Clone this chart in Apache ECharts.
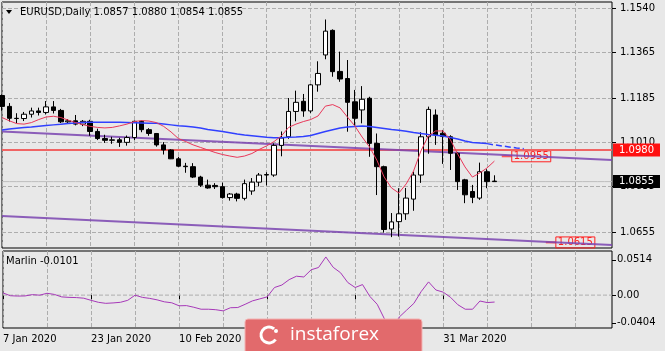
<!DOCTYPE html>
<html>
<head>
<meta charset="utf-8">
<style>
  html, body { margin: 0; padding: 0; background: #e8e8e8; }
  #chart { width: 665px; height: 351px; }
</style>
<script src="https://cdn.jsdelivr.net/npm/echarts@6.0.0/dist/echarts.min.js"></script>
</head>
<body>
<div id="chart"></div>
<script>
// trading days on the x axis (last ones are the empty space on the right)
const dates = [
  '7 Jan 2020','8 Jan 2020','9 Jan 2020','10 Jan 2020','13 Jan 2020','14 Jan 2020','15 Jan 2020','16 Jan 2020',
  '17 Jan 2020','20 Jan 2020','21 Jan 2020','22 Jan 2020','23 Jan 2020','24 Jan 2020','27 Jan 2020','28 Jan 2020',
  '29 Jan 2020','30 Jan 2020','31 Jan 2020','3 Feb 2020','4 Feb 2020','5 Feb 2020','6 Feb 2020','7 Feb 2020',
  '10 Feb 2020','11 Feb 2020','12 Feb 2020','13 Feb 2020','14 Feb 2020','17 Feb 2020','18 Feb 2020','19 Feb 2020',
  '20 Feb 2020','21 Feb 2020','24 Feb 2020','25 Feb 2020','26 Feb 2020','27 Feb 2020','28 Feb 2020','2 Mar 2020',
  '3 Mar 2020','4 Mar 2020','5 Mar 2020','6 Mar 2020','9 Mar 2020','10 Mar 2020','11 Mar 2020','12 Mar 2020',
  '13 Mar 2020','16 Mar 2020','17 Mar 2020','18 Mar 2020','19 Mar 2020','20 Mar 2020','23 Mar 2020','24 Mar 2020',
  '25 Mar 2020','26 Mar 2020','27 Mar 2020','30 Mar 2020','31 Mar 2020','1 Apr 2020','2 Apr 2020','3 Apr 2020',
  '6 Apr 2020','7 Apr 2020','8 Apr 2020','9 Apr 2020','10 Apr 2020','13 Apr 2020','14 Apr 2020','15 Apr 2020',
  '16 Apr 2020','17 Apr 2020','20 Apr 2020','21 Apr 2020','22 Apr 2020','23 Apr 2020','24 Apr 2020','27 Apr 2020',
  '28 Apr 2020','29 Apr 2020','30 Apr 2020','1 May 2020'
];

// EURUSD daily: [open, close, low, high]
const candles = [
  [1.1195,1.1152,1.1135,1.1199],[1.1152,1.1105,1.1092,1.1165],[1.1105,1.1104,1.1086,1.1125],[1.1104,1.1121,1.1094,1.1130],
  [1.1121,1.1134,1.1108,1.1147],[1.1134,1.1128,1.1116,1.1147],[1.1128,1.1150,1.1120,1.1173],[1.1150,1.1136,1.1124,1.1173],
  [1.1136,1.1091,1.1086,1.1142],[1.1091,1.1095,1.1085,1.1102],[1.1095,1.1082,1.1077,1.1118],[1.1082,1.1093,1.1074,1.1098],
  [1.1093,1.1053,1.1036,1.1099],[1.1053,1.1025,1.1019,1.1064],[1.1025,1.1018,1.1008,1.1040],[1.1018,1.1020,1.1004,1.1032],
  [1.1020,1.1010,1.0992,1.1028],[1.1010,1.1029,1.0997,1.1037],[1.1029,1.1093,1.1019,1.1096],[1.1093,1.1060,1.1050,1.1096],
  [1.1060,1.1045,1.1036,1.1066],[1.1045,1.1000,1.0993,1.1047],[1.1000,1.0980,1.0962,1.1011],[1.0980,1.0945,1.0944,1.0983],
  [1.0945,1.0916,1.0913,1.0953],[1.0916,1.0914,1.0890,1.0929],[1.0914,1.0873,1.0869,1.0928],[1.0873,1.0841,1.0834,1.0878],
  [1.0841,1.0830,1.0827,1.0863],[1.0840,1.0835,1.0826,1.0849],[1.0835,1.0792,1.0788,1.0851],[1.0792,1.0806,1.0780,1.0810],
  [1.0806,1.0789,1.0777,1.0811],[1.0789,1.0847,1.0781,1.0863],[1.0818,1.0853,1.0803,1.0869],[1.0853,1.0881,1.0836,1.0889],
  [1.0881,1.0883,1.0840,1.0892],[1.0881,1.0998,1.0874,1.1006],[1.0998,1.1027,1.0955,1.1053],[1.1032,1.1132,1.1024,1.1185],
  [1.1132,1.1168,1.1093,1.1214],[1.1172,1.1134,1.1111,1.1201],[1.1134,1.1237,1.1126,1.1240],[1.1237,1.1282,1.1210,1.1330],
  [1.1355,1.1449,1.1338,1.1495],[1.1452,1.1289,1.1269,1.1456],[1.1290,1.1260,1.1249,1.1368],[1.1262,1.1168,1.1052,1.1335],
  [1.1170,1.1105,1.1072,1.1217],[1.1138,1.1180,1.1085,1.1232],[1.1184,1.1006,1.0953,1.1190],[1.1006,1.0914,1.0802,1.1045],
  [1.0914,1.0666,1.0654,1.0918],[1.0668,1.0696,1.0636,1.0731],[1.0697,1.0728,1.0638,1.0829],[1.0728,1.0790,1.0704,1.0830],
  [1.0786,1.0881,1.0740,1.0894],[1.0881,1.1032,1.0850,1.1050],[1.1032,1.1140,1.0965,1.1151],[1.1118,1.1039,1.1000,1.1140],
  [1.1046,1.1033,1.0925,1.1059],[1.1032,1.0967,1.0901,1.1038],[1.0967,1.0855,1.0822,1.0972],[1.0862,1.0803,1.0770,1.0866],
  [1.0816,1.0793,1.0770,1.0842],[1.0790,1.0894,1.0783,1.0930],[1.0894,1.0855,1.0829,1.0904],[1.0857,1.0855,1.0854,1.0880]
];

// fast MA (red)
const redMa = [
  1.1108,1.1095,1.1084,1.1082,1.1088,1.1100,1.1110,1.1113,1.1108,1.1098,
  1.1088,1.1080,1.1073,1.1069,1.1067,1.1069,1.1075,1.1082,1.1092,1.1096,
  1.1094,1.1088,1.1073,1.1051,1.1025,1.1013,1.1000,1.0990,1.0980,1.0970,
  1.0962,1.0956,1.0951,1.0956,1.0966,1.0982,1.0996,1.1013,1.1035,1.1069,
  1.1082,1.1092,1.1100,1.1114,1.1153,1.1159,1.1146,1.1110,1.1075,1.1031,
  1.0992,1.0940,1.0873,1.0830,1.0810,1.0846,1.0897,1.0976,1.1035,1.1055,
  1.1055,1.1021,1.0964,1.0913,1.0873,1.0889,1.0909,1.0936
];

// slow MA (blue), solid part then the dashed forward part
const blueMa = [
  1.1059,1.1063,1.1066,1.1069,1.1071,1.1074,1.1077,1.1079,1.1081,1.1084,
  1.1086,1.1088,1.1089,1.1089,1.1089,1.1089,1.1089,1.1088,1.1087,1.1086,
  1.1085,1.1085,1.1082,1.1079,1.1076,1.1074,1.1071,1.1067,1.1061,1.1057,
  1.1053,1.1048,1.1043,1.1039,1.1036,1.1033,1.1030,1.1028,1.1028,1.1030,
  1.1031,1.1033,1.1037,1.1045,1.1053,1.1060,1.1067,1.1071,1.1073,1.1075,
  1.1073,1.1069,1.1065,1.1061,1.1058,1.1054,1.1049,1.1045,1.1041,1.1038,
  1.1035,1.1029,1.1023,1.1015,1.1009,1.1007,1.1005
];
const blueForecast = [1.1005,1.1000,1.0996,1.0992,1.0988,1.0985];

// channel lines: value at first and last category
const upperChannel = [1.1053, 1.0940];
const lowerChannel = [1.0719, 1.0605];
const channelTexts = ['1.0955', '1.0615'];
const channelValues = [1.0955, 1.0615];
const channelIdx = [68, 74];

const levelPrice = 1.0980;
const bidPrice = 1.0855;

// Marlin oscillator
const marlin = [
  0.0032,-0.0009,-0.0014,-0.0012,0.0007,-0.0001,0.0027,0.0010,-0.0026,-0.0033,
  -0.0036,-0.0045,-0.0076,-0.0105,-0.0120,-0.0114,-0.0105,-0.0076,-0.0001,-0.0033,
  -0.0048,-0.0069,-0.0098,-0.0112,-0.0156,-0.0153,-0.0177,-0.0206,-0.0206,-0.0213,
  -0.0230,-0.0184,-0.0181,-0.0134,-0.0084,-0.0055,-0.0026,0.0111,0.0147,0.0226,
  0.0276,0.0265,0.0370,0.0403,0.0557,0.0406,0.0327,0.0183,0.0111,0.0154,
  -0.0019,-0.0134,-0.0350,-0.0494,-0.0321,-0.0220,-0.0120,0.0053,0.0193,0.0075,
  0.0043,-0.0033,-0.0141,-0.0206,-0.0206,-0.0086,-0.0109,-0.0101
];

const priceTicks = [1.1540, 1.1365, 1.1185, 1.1010, 1.0835, 1.0655];
const marlinTicks = [0.0514, 0, -0.0404];

const FONT = 'DejaVu Sans';
const GRIDLINE = '#adadad';
const n = dates.length;

function lineFromEnds(ends) {
  const d = new Array(n).fill(null);
  d[0] = ends[0];
  d[n - 1] = ends[1];
  return d;
}

const chart = echarts.init(document.getElementById('chart'));
const last = candles[candles.length - 1];
const titleText = 'EURUSD,Daily ' + [last[0], last[3], last[2], last[1]].map(v => v.toFixed(4)).join(' ');

const gridDash = { color: GRIDLINE, width: 1, type: 'dashed', dashOffset: 0 };

chart.setOption({
  animation: false,
  backgroundColor: '#e8e8e8',
  grid: [
    { left: 2, top: 2, width: 610, height: 246, show: true, borderColor: '#000', borderWidth: 1, backgroundColor: 'transparent' },
    { left: 2, top: 251, width: 610, height: 77, show: true, borderColor: '#000', borderWidth: 1, backgroundColor: 'transparent' }
  ],
  xAxis: [
    {
      type: 'category', gridIndex: 0, data: dates, boundaryGap: false,
      axisLine: { show: false }, axisTick: { show: false }, axisLabel: { show: false },
      splitLine: { show: true, interval: 5, lineStyle: gridDash }
    },
    {
      type: 'category', gridIndex: 1, data: dates, boundaryGap: false,
      axisLine: { show: false },
      axisTick: { show: true, interval: (i) => i % 12 === 0 && i <= 60, length: 4, lineStyle: { color: '#000' } },
      axisLabel: {
        interval: (i) => i % 12 === 0 && i <= 60, align: 'left', margin: 6,
        color: '#000', fontSize: 10, fontFamily: FONT
      },
      splitLine: { show: true, interval: 5, lineStyle: gridDash }
    }
  ],
  yAxis: [
    {
      type: 'value', gridIndex: 0, position: 'right', min: 1.0593, max: 1.1564,
      axisLine: { show: false },
      axisTick: { show: true, customValues: priceTicks, length: 4, lineStyle: { color: '#000' } },
      axisLabel: { customValues: priceTicks, margin: 8, color: '#000', fontSize: 10, fontFamily: FONT, formatter: v => v.toFixed(4) },
      splitLine: { show: true, lineStyle: gridDash }
    },
    {
      type: 'value', gridIndex: 1, position: 'right', min: -0.048, max: 0.0644,
      axisLine: { show: false },
      axisTick: { show: true, customValues: marlinTicks, length: 4, lineStyle: { color: '#000' } },
      axisLabel: {
        customValues: marlinTicks, margin: 5, color: '#000', fontSize: 10, fontFamily: FONT,
        formatter: v => (v === 0 ? '0.00' : v.toFixed(4))
      },
      splitLine: { show: false }
    }
  ],
  series: [
    {
      // bid line, under everything
      name: 'bid', type: 'line', xAxisIndex: 0, yAxisIndex: 0, data: new Array(n).fill(bidPrice),
      symbol: 'none', z: 1, silent: true, lineStyle: { color: '#bdbdbd', width: 1 }
    },
    {
      // horizontal level, kept under the candles
      name: 'level', type: 'line', xAxisIndex: 0, yAxisIndex: 0, data: new Array(n).fill(levelPrice),
      symbol: 'none', z: 1, silent: true, lineStyle: { color: '#f06464', width: 2 }
    },
    {
      name: 'upper', type: 'line', xAxisIndex: 0, yAxisIndex: 0, data: lineFromEnds(upperChannel),
      connectNulls: true, symbol: 'none', z: 2, lineStyle: { color: '#7a44b0', width: 2, opacity: 0.85 }
    },
    {
      name: 'lower', type: 'line', xAxisIndex: 0, yAxisIndex: 0, data: lineFromEnds(lowerChannel),
      connectNulls: true, symbol: 'none', z: 2, lineStyle: { color: '#7a44b0', width: 2, opacity: 0.85 }
    },
    {
      type: 'candlestick', xAxisIndex: 0, yAxisIndex: 0, data: candles, barWidth: 5, z: 3,
      itemStyle: { color: '#fff', color0: '#000', borderColor: '#000', borderColor0: '#000', borderWidth: 1 }
    },
    {
      name: 'blue', type: 'line', xAxisIndex: 0, yAxisIndex: 0, data: blueMa,
      symbol: 'none', z: 4, lineStyle: { color: '#3040ff', width: 1.5 }
    },
    {
      name: 'blueForecast', type: 'line', xAxisIndex: 0, yAxisIndex: 0,
      data: new Array(blueMa.length - 1).fill(null).concat(blueForecast),
      symbol: 'none', z: 4, lineStyle: { color: '#3040ff', width: 1.5, type: 'dashed' }
    },
    {
      name: 'red', type: 'line', xAxisIndex: 0, yAxisIndex: 0, data: redMa,
      symbol: 'none', z: 5, lineStyle: { color: '#e8385a', width: 1 }
    },
    {
      // zero line of the oscillator
      name: 'zero', type: 'line', xAxisIndex: 1, yAxisIndex: 1, data: new Array(n).fill(0),
      symbol: 'none', z: 1, silent: true, lineStyle: gridDash
    },
    {
      name: 'Marlin', type: 'line', xAxisIndex: 1, yAxisIndex: 1, data: marlin,
      symbol: 'none', z: 3, lineStyle: { color: '#a638b8', width: 1 }
    }
  ]
});

// texts and the logo on top of the chart
const extras = [
  { type: 'polygon', shape: { points: [[6, 10], [12, 10], [9, 14]] }, style: { fill: '#000' } },
  { type: 'text', x: 20, y: 12, style: { text: titleText, fill: '#000', font: '10px ' + FONT, verticalAlign: 'middle' } },
  { type: 'text', x: 6, y: 261, style: { text: 'Marlin ' + marlin[marlin.length - 1].toFixed(4), fill: '#000', font: '10px ' + FONT, verticalAlign: 'middle' } }
];

// price boxes on the right axis
[[levelPrice, '#ff1010'], [bidPrice, '#000']].forEach(([v, bg]) => {
  const p = chart.convertToPixel({ gridIndex: 0 }, [0, v]);
  extras.push({
    type: 'text', x: 613, y: p[1], z: 50,
    style: {
      text: v.toFixed(4), fill: '#fff', font: '10px ' + FONT, verticalAlign: 'middle',
      backgroundColor: bg, padding: [2, 6, 1, 6]
    }
  });
});

channelIdx.forEach((idx, k) => {
  const p = chart.convertToPixel({ gridIndex: 0 }, [idx, channelValues[k]]);
  extras.push({ type: 'line', shape: { x1: p[0], y1: p[1], x2: p[0] + 10, y2: p[1] }, style: { stroke: '#ff5a5a', lineWidth: 2 } });
  extras.push({
    type: 'text', x: p[0] + 10, y: p[1],
    style: {
      text: channelTexts[k], fill: '#ff2020', font: '10px ' + FONT, verticalAlign: 'middle',
      borderColor: '#ff2020', borderWidth: 1, padding: [1, 2, 0, 2]
    }
  });
});

// instaforex badge
extras.push(
  { type: 'rect', shape: { x: 245, y: 319, width: 177, height: 40, r: 3 }, style: { fill: '#e26a6c', stroke: '#f3b3b3', lineWidth: 1 }, z: 100 },
  { type: 'arc', shape: { cx: 269, cy: 335, r: 8, startAngle: 0.6, endAngle: 5.4 }, style: { stroke: '#fff', lineWidth: 3, fill: null }, z: 101 },
  { type: 'circle', shape: { cx: 276, cy: 331, r: 2 }, style: { fill: '#fff' }, z: 101 },
  { type: 'text', x: 290, y: 335, style: { text: 'instaforex', fill: '#fff', font: '19px "Open Sans"', verticalAlign: 'middle' }, z: 101 }
);

chart.setOption({ graphic: extras });
</script>
</body>
</html>
